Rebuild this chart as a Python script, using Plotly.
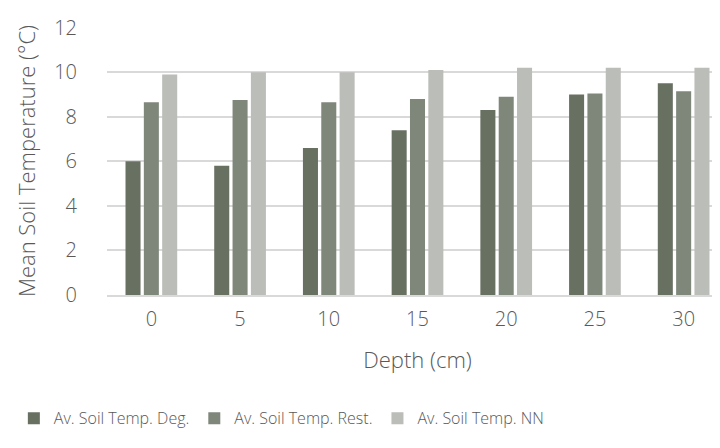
import plotly.graph_objects as go

depths = ["0", "5", "10", "15", "20", "25", "30"]
deg = [6.0, 5.8, 6.6, 7.4, 8.3, 9.0, 9.5]
rest = [8.65, 8.75, 8.65, 8.8, 8.9, 9.05, 9.15]
nn = [9.9, 10.0, 10.0, 10.1, 10.2, 10.2, 10.2]

names = ["Av. Soil Temp. Deg.", "Av. Soil Temp. Rest.", "Av. Soil Temp. NN"]
colors = ["#687062", "#7f877b", "#bbbdb8"]

FONT = "Open Sans"
TXT = "#595959"

fig = go.Figure()
for vals, name, col in zip([deg, rest, nn], names, colors):
    fig.add_trace(go.Bar(x=depths, y=vals, name=name, marker_color=col,
                         marker_line_width=0))

fig.update_layout(
    width=720, height=448,
    margin=dict(l=99, r=0, t=19, b=161),
    plot_bgcolor="white", paper_bgcolor="white",
    barmode="group", bargap=0.38, bargroupgap=0.18,
    font=dict(family=FONT, size=20, color=TXT, weight=300),
    xaxis=dict(title=dict(text="Depth (cm)", standoff=22,
                          font=dict(size=22, color=TXT, weight=300)),
               showgrid=False, showline=True, linecolor="#d9d9d9", linewidth=1.5,
               ticks="outside", ticklen=5, tickcolor="rgba(0,0,0,0)",
               tickfont=dict(size=20, color=TXT, weight=300)),
    yaxis=dict(title=dict(text="Mean Soil Temperature (°C)", standoff=12,
                          font=dict(size=22, color=TXT, weight=300)),
               range=[0, 12.03], tickvals=[0, 2, 4, 6, 8, 10, 12],
               showgrid=True, gridcolor="#d9d9d9",
               gridwidth=1.5, zeroline=False,
               ticks="outside", ticklen=25, tickcolor="rgba(0,0,0,0)",
               tickfont=dict(size=20, color=TXT, weight=300)),
    legend=dict(orientation="h", x=-0.15, xanchor="left", y=-0.46,
                yanchor="middle", font=dict(size=16, color=TXT, weight=300),
                itemwidth=30, traceorder="normal"),
)

fig.write_html("out.html")
